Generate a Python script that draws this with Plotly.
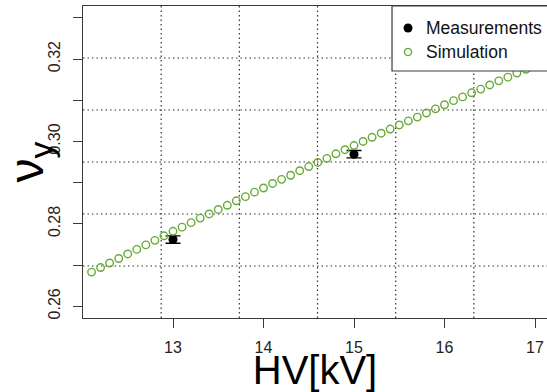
import numpy as np
import plotly.graph_objects as go

# Measured tune vs. high voltage
meas_hv = [13.0, 15.0]
meas_nu = [0.2762, 0.2969]
meas_err = [0.0009, 0.0009]

# Simulated tune, 0.1 kV steps
sim_hv = [12.1, 12.2, 12.3, 12.4, 12.5, 12.6, 12.7, 12.8, 12.9, 13.0,
          13.1, 13.2, 13.3, 13.4, 13.5, 13.6, 13.7, 13.8, 13.9, 14.0,
          14.1, 14.2, 14.3, 14.4, 14.5, 14.6, 14.7, 14.8, 14.9, 15.0,
          15.1, 15.2, 15.3, 15.4, 15.5, 15.6, 15.7, 15.8, 15.9, 16.0,
          16.1, 16.2, 16.3, 16.4, 16.5, 16.6, 16.7, 16.8, 16.9, 17.0, 17.1]
sim_nu = [0.2683, 0.2694, 0.2705, 0.2716, 0.2727, 0.2738, 0.2749, 0.2760, 0.2771, 0.2782,
          0.2792, 0.2803, 0.2814, 0.2824, 0.2835, 0.2845, 0.2856, 0.2866, 0.2877, 0.2887,
          0.2898, 0.2908, 0.2918, 0.2929, 0.2939, 0.2949, 0.2959, 0.2970, 0.2980, 0.2990,
          0.3000, 0.3010, 0.3020, 0.3030, 0.3040, 0.3050, 0.3059, 0.3069, 0.3079, 0.3089,
          0.3099, 0.3108, 0.3118, 0.3127, 0.3137, 0.3147, 0.3156, 0.3166, 0.3175, 0.3184, 0.3194]

x_ticks = [13, 14, 15, 16, 17]
y_ticks = [0.26, 0.28, 0.30, 0.32]
y_minor_ticks = [0.27, 0.29, 0.31, 0.33]
legend_labels = ["Measurements", "Simulation"]

# axis limits of the full plotting region (it runs slightly past the page on the right)
X_LO, X_HI_FULL = 12.0055, 17.188
X_HI_VIEW = 17.1326
Y_LO, Y_HI = 0.25716, 0.33286

GREEN = "#6aaa3a"
FRAME = "#3a3a3a"
FONT = "Liberation Sans, Arial, sans-serif"

fig = go.Figure()

fig.add_trace(go.Scatter(
    x=meas_hv, y=meas_nu, mode="markers", name=legend_labels[0],
    marker=dict(symbol="circle", size=9, color="black"),
    error_y=dict(type="data", array=meas_err, visible=True,
                 color="black", thickness=1.3, width=7.5),
))
fig.add_trace(go.Scatter(
    x=sim_hv, y=sim_nu, mode="markers", name=legend_labels[1],
    marker=dict(symbol="circle-open", size=7.5, color=GREEN, line=dict(width=1.4, color=GREEN)),
))

# dotted grid dividing the plotting region into 6 x 6 cells
shapes = []
grid_line = dict(color="#333333", width=1.2, dash="1.5px,3px")
for gx in np.linspace(X_LO, X_HI_FULL, 7)[1:-1]:
    shapes.append(dict(type="line", xref="x", yref="paper", x0=gx, x1=gx, y0=0, y1=1,
                       line=grid_line, layer="below"))
for gy in np.linspace(Y_LO, Y_HI, 7)[1:-1]:
    shapes.append(dict(type="line", xref="paper", yref="y", x0=0, x1=1, y0=gy, y1=gy,
                       line=grid_line, layer="below"))

# legend box in the top-right corner (drawn over the points)
LEG_X0, LEG_X1, LEG_Y0 = 0.666, 1.03, 0.7917
shapes.append(dict(type="rect", xref="paper", yref="paper", x0=LEG_X0, x1=LEG_X1, y0=LEG_Y0, y1=1.0,
                   fillcolor="white", line=dict(color=FRAME, width=1.2), layer="above"))
sym_x = LEG_X0 + 16 / 464
row_y = [1.0 - 22 / 312, 1.0 - 46 / 312]
shapes.append(dict(type="circle", xref="paper", yref="paper", xsizemode="pixel", ysizemode="pixel",
                   xanchor=sym_x, yanchor=row_y[0], x0=-4.5, x1=4.5, y0=-4.5, y1=4.5,
                   fillcolor="black", line=dict(color="black", width=0), layer="above"))
shapes.append(dict(type="circle", xref="paper", yref="paper", xsizemode="pixel", ysizemode="pixel",
                   xanchor=sym_x, yanchor=row_y[1], x0=-3.6, x1=3.6, y0=-3.6, y1=3.6,
                   fillcolor="rgba(0,0,0,0)", line=dict(color=GREEN, width=1.4), layer="above"))
annotations = [
    dict(text=lab, xref="paper", yref="paper", x=LEG_X0 + 32 / 464, y=yy,
         xanchor="left", yanchor="middle", showarrow=False,
         font=dict(size=17.5, family=FONT, color="#111111"))
    for lab, yy in zip(legend_labels, row_y)
]

fig.update_layout(
    width=547, height=392,
    margin=dict(l=83, r=0, t=6, b=74),
    paper_bgcolor="white", plot_bgcolor="white",
    font=dict(family=FONT, color="#222222"),
    shapes=shapes, annotations=annotations,
    showlegend=False,
    xaxis=dict(
        range=[X_LO, X_HI_VIEW], tickvals=x_ticks, ticktext=[str(v) for v in x_ticks],
        showgrid=False, zeroline=False, showline=True, linecolor=FRAME, linewidth=1.3,
        mirror=True, ticks="outside", ticklen=9, tickwidth=1.3, tickcolor=FRAME,
        tickfont=dict(size=16, family=FONT, color="#222222"), ticklabelstandoff=6,
        automargin=False,
        title=dict(text="HV[kV]", standoff=3,
                   font=dict(size=40, family=FONT, color="black")),
    ),
    yaxis=dict(
        range=[Y_LO, Y_HI], tickvals=y_ticks, ticktext=["%.2f" % v for v in y_ticks], tickangle=-90,
        showgrid=False, zeroline=False, showline=True, linecolor=FRAME, linewidth=1.3,
        ticks="outside", ticklen=9, tickwidth=1.3, tickcolor=FRAME,
        minor=dict(tickvals=y_minor_ticks, ticks="outside", ticklen=9, tickwidth=1.3,
                   tickcolor=FRAME, showgrid=False),
        tickfont=dict(size=16, family=FONT, color="#222222"), ticklabelstandoff=6,
        automargin=False,
        title=dict(text="ν<sub>y</sub>", standoff=9,
                   font=dict(size=48, family=FONT, color="black")),
    ),
)

fig.write_html("out.html")
